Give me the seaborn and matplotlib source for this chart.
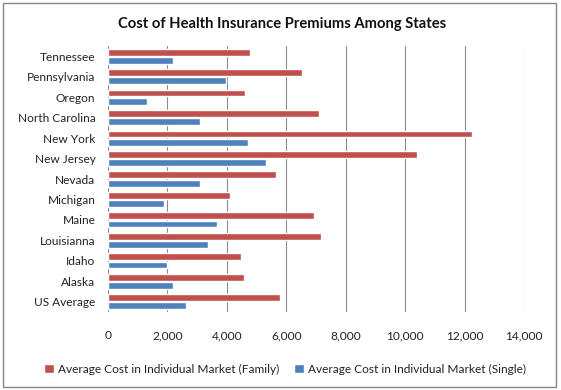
import matplotlib
matplotlib.use("Agg")
import matplotlib.pyplot as plt
import seaborn as sns
import pandas as pd
from matplotlib.patches import Rectangle
from matplotlib.ticker import FuncFormatter

states = ["Tennessee", "Pennsylvania", "Oregon", "North Carolina", "New York",
          "New Jersey", "Nevada", "Michigan", "Maine", "Louisianna", "Idaho",
          "Alaska", "US Average"]
family = [4790, 6530, 4620, 7100, 12240, 10390, 5660, 4120, 6940, 7170, 4490, 4590, 5800]
single = [2200, 3960, 1300, 3080, 4720, 5330, 3110, 1870, 3680, 3380, 2000, 2200, 2610]
series_names = ["Average Cost in Individual Market (Family)",
                "Average Cost in Individual Market (Single)"]
xticks = [0, 2000, 4000, 6000, 8000, 10000, 12000, 14000]

df = pd.DataFrame({
    "State": states * 2,
    "Cost": family + single,
    "Series": [series_names[0]] * len(states) + [series_names[1]] * len(states),
})

sns.set_theme(style="white")
plt.rcParams["font.family"] = ["Lato", "DejaVu Sans"]

fig = plt.figure(figsize=(5.61, 3.90), dpi=100)
ax = fig.add_axes([108 / 561, 1 - 312 / 390, (524 - 108) / 561, (312 - 46) / 390])

sns.barplot(data=df, x="Cost", y="State", hue="Series", order=states,
            hue_order=series_names, palette=["#C0504D", "#4F81BD"],
            orient="h", width=0.8, gap=0.16, ax=ax, saturation=1, legend=True)

ax.set_xlim(0, 14000)
ax.set_xticks(xticks)
ax.xaxis.set_major_formatter(FuncFormatter(lambda v, p: f"{int(v):,}"))
ax.grid(axis="x", color="#8c8c8c", linewidth=0.8)
ax.set_axisbelow(True)
for s in ax.spines.values():
    s.set_visible(False)
ax.set_xlabel("")
ax.set_ylabel("")
ax.tick_params(axis="x", length=0, pad=13, labelsize=8.6, labelcolor="#222222")
ax.tick_params(axis="y", length=0, pad=9, labelsize=8.6, labelcolor="#222222")

leg = ax.legend(loc="center", bbox_to_anchor=(285 / 561, 1 - 369 / 390),
                bbox_transform=fig.transFigure, ncol=2, frameon=False,
                fontsize=8.6, handlelength=0.8, handleheight=0.8,
                handletextpad=0.3, columnspacing=1.3, labelcolor="#222222")

fig.text(282 / 561, 1 - 24 / 390, "Cost of Health Insurance Premiums Among States",
         ha="center", va="center", fontsize=10.6, fontweight="bold", color="#111111")

fig.patches.append(Rectangle((3 / 561, 3 / 390), 553 / 561, 384 / 390,
                             transform=fig.transFigure, fill=False,
                             edgecolor="#868686", linewidth=1))

fig.savefig("out.png", dpi=100)
